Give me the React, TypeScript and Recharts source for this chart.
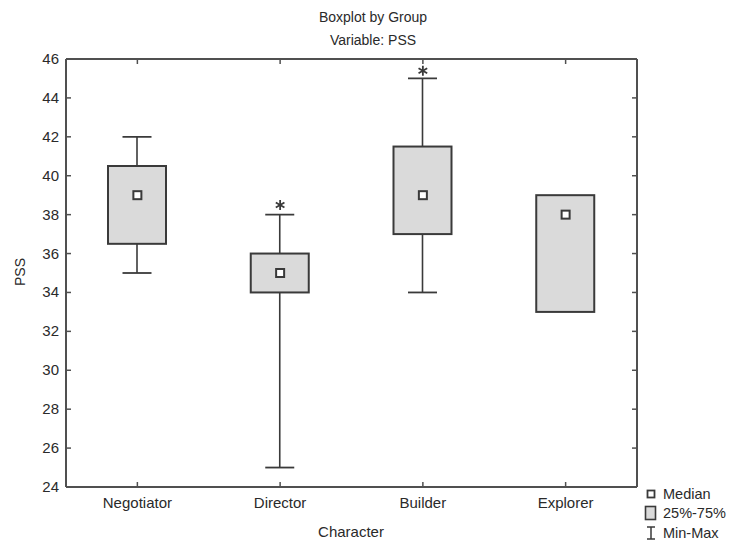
import { ComposedChart, Bar, Scatter, XAxis, YAxis, CartesianGrid } from 'recharts';

const categories = ['Negotiator', 'Director', 'Builder', 'Explorer'];
const minValues = [35, 25, 34, 33];
const q1Values = [36.5, 34, 37, 33];
const medianValues = [39, 35, 39, 38];
const q3Values = [40.5, 36, 41.5, 39];
const maxValues = [42, 38, 45, 39];
const outlierValues: (number | null)[] = [null, 38.5, 45.4, null];
const yTicks = [24, 26, 28, 30, 32, 34, 36, 38, 40, 42, 44, 46];

const data = categories.map((name, i) => ({
  name,
  range: [minValues[i], maxValues[i]],
  min: minValues[i],
  q1: q1Values[i],
  median: medianValues[i],
  q3: q3Values[i],
  max: maxValues[i],
  outlier: outlierValues[i],
}));

const ink = '#3a3a3a';
const frame = '#505050';
const boxFill = '#dadada';
const gridColor = '#d6d6d6';
const textColor = '#2a2a2a';
const font = '"Liberation Sans", Arial, sans-serif';

function BoxShape(props: any) {
  const { x, y, width, height, payload } = props;
  const top = Math.min(y, y + height);
  const h = Math.abs(height);
  const { min, max, q1, q3 } = payload;
  // same linear mapping as the bar's own min..max span
  const py = (v: number) => (max === min ? top : top + ((max - v) / (max - min)) * h);
  const cx = x + width / 2;
  const cap = width / 4;
  return (
    <g>
      {max > q3 && (
        <>
          <line x1={cx} x2={cx} y1={py(max)} y2={py(q3)} stroke={ink} strokeWidth={1.6} />
          <line x1={cx - cap} x2={cx + cap} y1={py(max)} y2={py(max)} stroke={ink} strokeWidth={1.8} />
        </>
      )}
      {min < q1 && (
        <>
          <line x1={cx} x2={cx} y1={py(q1)} y2={py(min)} stroke={ink} strokeWidth={1.6} />
          <line x1={cx - cap} x2={cx + cap} y1={py(min)} y2={py(min)} stroke={ink} strokeWidth={1.8} />
        </>
      )}
      <rect x={x} y={py(q3)} width={width} height={py(q1) - py(q3)} fill={boxFill} stroke={ink} strokeWidth={2} />
    </g>
  );
}

function MedianShape(props: any) {
  const { cx, cy } = props;
  if (cx == null || cy == null) return <g />;
  return <rect x={cx - 4} y={cy - 4} width={8} height={8} fill="#fff" stroke={ink} strokeWidth={2} />;
}

function StarShape(props: any) {
  const { cx, cy, payload } = props;
  if (cx == null || cy == null || payload.outlier == null) return <g />;
  const r = 5;
  const arms = [90, 30, 150].map((a) => (a * Math.PI) / 180);
  return (
    <g stroke={ink} strokeWidth={1.8}>
      {arms.map((a, i) => (
        <line key={i} x1={cx - r * Math.cos(a)} y1={cy - r * Math.sin(a)} x2={cx + r * Math.cos(a)} y2={cy + r * Math.sin(a)} />
      ))}
    </g>
  );
}

function BottomTick(props: any) {
  const { x, y, payload } = props;
  return (
    <g>
      <line x1={x} x2={x} y1={y} y2={y - 5} stroke={frame} strokeWidth={1.5} />
      <text x={x} y={y + 21} textAnchor="middle" fontSize={15} fontFamily={font} fill={textColor}>
        {payload.value}
      </text>
    </g>
  );
}

function TopTick(props: any) {
  const { x, y } = props;
  return <line x1={x} x2={x} y1={y} y2={y + 5} stroke={frame} strokeWidth={1.5} />;
}

function LeftTick(props: any) {
  const { x, y, payload } = props;
  return (
    <g>
      <line x1={x} x2={x + 5} y1={y} y2={y} stroke={frame} strokeWidth={1.5} />
      <text x={x - 7} y={y + 5} textAnchor="end" fontSize={15} fontFamily={font} fill={textColor}>
        {payload.value}
      </text>
    </g>
  );
}

function RightTick(props: any) {
  const { x, y } = props;
  return <line x1={x} x2={x - 5} y1={y} y2={y} stroke={frame} strokeWidth={1.5} />;
}

export default function App() {
  return (
    <div style={{ position: 'absolute', left: 0, top: 0, width: 729, height: 540, background: '#fff', fontFamily: font, color: textColor }}>
      <div style={{ position: 'absolute', left: 273, width: 200, top: 8, textAlign: 'center', fontSize: 14, lineHeight: '18px' }}>
        Boxplot by Group
      </div>
      <div style={{ position: 'absolute', left: 273, width: 200, top: 31, textAlign: 'center', fontSize: 14, lineHeight: '18px' }}>
        Variable: PSS
      </div>
      <ComposedChart width={729} height={540} data={data} margin={{ top: 58, right: 91, bottom: 23, left: 26 }}>
        <CartesianGrid horizontal vertical={false} stroke={gridColor} strokeWidth={1.5} />
        <XAxis dataKey="name" xAxisId="bottom" height={30} tickSize={0} tickMargin={0} tickLine={false}
          axisLine={{ stroke: frame, strokeWidth: 2 }} tick={<BottomTick />} interval={0} />
        <XAxis dataKey="name" xAxisId="top" orientation="top" height={1} tickSize={0} tickMargin={0} tickLine={false}
          axisLine={{ stroke: frame, strokeWidth: 2 }} tick={<TopTick />} interval={0} />
        <YAxis yAxisId="left" domain={[24, 46]} ticks={yTicks} width={40} tickSize={0} tickMargin={0} tickLine={false}
          axisLine={{ stroke: frame, strokeWidth: 2 }} tick={<LeftTick />} interval={0} allowDataOverflow />
        <YAxis yAxisId="right" orientation="right" domain={[24, 46]} ticks={yTicks} width={1} tickSize={0} tickMargin={0}
          tickLine={false} axisLine={{ stroke: frame, strokeWidth: 2 }} tick={<RightTick />} interval={0} allowDataOverflow />
        <Bar dataKey="range" xAxisId="bottom" yAxisId="left" barSize={58} shape={<BoxShape />} isAnimationActive={false} />
        <Scatter dataKey="median" xAxisId="top" yAxisId="right" shape={<MedianShape />} isAnimationActive={false} />
        <Scatter dataKey="outlier" xAxisId="bottom" yAxisId="left" shape={<StarShape />} isAnimationActive={false} />
      </ComposedChart>
      <div style={{ position: 'absolute', left: 20, top: 272, transform: 'translate(-50%, -50%) rotate(-90deg)', fontSize: 14 }}>
        PSS
      </div>
      <div style={{ position: 'absolute', left: 251, width: 200, top: 523, textAlign: 'center', fontSize: 15, lineHeight: '18px' }}>
        Character
      </div>
      <div style={{ position: 'absolute', left: 644, top: 484, fontSize: 14.5, lineHeight: '20px' }}>
        <div style={{ display: 'flex', alignItems: 'center', height: 19 }}>
          <svg width={14} height={14}>
            <rect x={3.5} y={3.5} width={7} height={7} fill="#fff" stroke={ink} strokeWidth={1.8} />
          </svg>
          <span style={{ marginLeft: 5 }}>Median</span>
        </div>
        <div style={{ display: 'flex', alignItems: 'center', height: 20 }}>
          <svg width={14} height={16}>
            <rect x={1.5} y={1.5} width={10} height={13} fill={boxFill} stroke={ink} strokeWidth={1.6} />
          </svg>
          <span style={{ marginLeft: 5 }}>25%-75%</span>
        </div>
        <div style={{ display: 'flex', alignItems: 'center', height: 19 }}>
          <svg width={14} height={14}>
            <line x1={3} x2={11} y1={1} y2={1} stroke={ink} strokeWidth={1.5} />
            <line x1={7} x2={7} y1={1} y2={13} stroke={ink} strokeWidth={1.5} />
            <line x1={3} x2={11} y1={13} y2={13} stroke={ink} strokeWidth={1.5} />
          </svg>
          <span style={{ marginLeft: 5 }}>Min-Max</span>
        </div>
      </div>
    </div>
  );
}
